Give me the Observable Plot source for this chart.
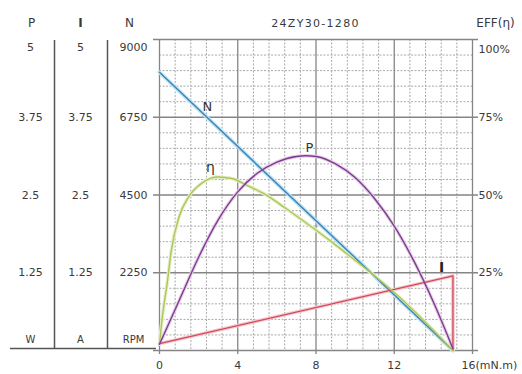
<!DOCTYPE html>
<html><head><meta charset="utf-8">
<script src="https://cdn.jsdelivr.net/npm/d3@7"></script>
<script src="https://cdn.jsdelivr.net/npm/@observablehq/plot@0.6"></script>
<style>body{margin:0;background:#fff}</style>
</head><body><div id="chart"></div><script>
// ---- data ----
const nTorque = [0, 15];
const nSpeed = [8050, 0];                       // RPM
const iTorque = [0, 15, 15];
const iCurrent = [0.11, 1.2, 0];                // A
const pTorque = [0, 1, 2, 3, 4, 5, 6, 7, 7.5, 8, 9, 10, 11, 12, 13, 14, 15];
const pPower = [0.1, 0.8, 1.5, 2.1, 2.55, 2.85, 3.03, 3.12, 3.13, 3.12, 3.0, 2.78, 2.44, 2.0, 1.44, 0.78, 0.03]; // W
const eTorque = [0, 0.15, 0.4, 0.6, 1.0, 1.5, 2.2, 3.0, 3.7, 4.5, 5.4, 6.5, 7.5, 8.7, 9.8, 10.8, 11.9, 13, 14, 15];
const eEff = [2, 11, 22, 32, 43, 49.5, 54, 55.8, 55.3, 53, 50.2, 45.5, 41, 35.4, 30, 25, 19.2, 12.8, 6.5, 0]; // %

const pTicks = [1.25, 2.5, 3.75, 5];
const iTicks = [1.25, 2.5, 3.75, 5];
const nTicks = [2250, 4500, 6750, 9000];
const effTicks = [25, 50, 75, 100];
const xTicks = [0, 4, 8, 12];
const xLastLabel = "16(mN.m)";
const title = "24ZY30-1280";

// scale factors onto the shared N axis (0..9000)
const kP = 9000 / 5, kI = 9000 / 5, kE = 9000 / 100;

const nData = nTorque.map((t, i) => ({t, y: nSpeed[i]}));
const iData = iTorque.map((t, i) => ({t, y: iCurrent[i] * kI}));
const pData = pTorque.map((t, i) => ({t, y: pPower[i] * kP}));
const eData = eTorque.map((t, i) => ({t, y: eEff[i] * kE}));

const xMajor = [0, 4, 8, 12, 16];
const xMinor = d3.range(0, 16.001, 0.8).filter(v => Math.abs(v / 4 - Math.round(v / 4)) > 1e-6);
const yMajor = [0, 2250, 4500, 6750, 9000];
const yMinor = d3.range(0, 9000.1, 450).filter(v => v % 2250 !== 0);

const txt = "#3a3a3a";
const lab = (data, opts) => Plot.text(data, {fill: txt, fontSize: 11, ...opts});

const chart = Plot.plot({
  width: 522, height: 374,
  marginLeft: 159, marginRight: 50, marginTop: 39, marginBottom: 24,
  x: {domain: [0, 16], axis: null},
  y: {domain: [0, 9000], axis: null},
  style: {fontFamily: "'DejaVu Sans', sans-serif", background: "#fff", color: txt},
  marks: [
    // grid
    Plot.ruleX(xMinor, {stroke: "#a9a9a9", strokeWidth: 1, strokeDasharray: "2,1.5"}),
    Plot.ruleY(yMinor, {stroke: "#a9a9a9", strokeWidth: 1, strokeDasharray: "2,1.5"}),
    Plot.ruleX(xMajor, {stroke: "#858585", strokeWidth: 1.3, insetBottom: -4}),
    Plot.ruleY(yMajor, {stroke: "#858585", strokeWidth: 1.3, insetLeft: -6, insetRight: -6}),
    // left column separators and baseline
    Plot.ruleX([0], {dx: -105, stroke: "#555", strokeWidth: 1.5, insetTop: 1, insetBottom: 2}),
    Plot.ruleX([0], {dx: -52, stroke: "#555", strokeWidth: 1.5, insetTop: 1, insetBottom: 2}),
    Plot.ruleY([0], {x1: 0, x2: 0, insetLeft: -149, insetRight: 3, dy: -2, stroke: "#555", strokeWidth: 1.5}),
    // curves: halos
    Plot.line(nData, {x: "t", y: "y", stroke: "#bfe3f3", strokeWidth: 4}),
    Plot.line(iData, {x: "t", y: "y", stroke: "#f6c6cc", strokeWidth: 3.5}),
    Plot.line(eData, {x: "t", y: "y", stroke: "#e6efc6", strokeWidth: 3.5, curve: "monotone-x"}),
    Plot.line(pData, {x: "t", y: "y", stroke: "#e7cdea", strokeWidth: 3.5, curve: "monotone-x"}),
    // curves
    Plot.line(nData, {x: "t", y: "y", stroke: "#3a86b8", strokeWidth: 1.4}),
    Plot.line(iData, {x: "t", y: "y", stroke: "#cf4a58", strokeWidth: 1.3}),
    Plot.line(eData, {x: "t", y: "y", stroke: "#adc65a", strokeWidth: 1.4, curve: "monotone-x"}),
    Plot.line(pData, {x: "t", y: "y", stroke: "#7c3d8e", strokeWidth: 1.4, curve: "monotone-x"}),
    // curve labels
    Plot.text(["N"], {x: [2.45], y: [7060], fill: "#333", fontSize: 13}),
    Plot.text(["P"], {x: [7.67], y: [5870], fill: "#333", fontSize: 13}),
    Plot.text(["η"], {x: [2.6], y: [5300], fill: "#333", fontSize: 14}),
    Plot.text(["I"], {x: [14.42], y: [2390], fill: "#222", fontSize: 14, fontWeight: "bold"}),
    // left axis labels
    lab(pTicks.filter(v => v < 5), {x: 0, y: d => d * kP, text: d => String(d), dx: -129}),
    lab(pTicks.filter(v => v >= 5), {x: 0, y: d => d * kP, text: d => String(d), dx: -129, dy: 8}),
    lab(iTicks.filter(v => v < 5), {x: 0, y: d => d * kI, text: d => String(d), dx: -79}),
    lab(iTicks.filter(v => v >= 5), {x: 0, y: d => d * kI, text: d => String(d), dx: -79, dy: 8}),
    lab(nTicks.filter(v => v < 9000), {x: 0, y: d => d, text: d => String(d), dx: -12, textAnchor: "end"}),
    lab(nTicks.filter(v => v >= 9000), {x: 0, y: d => d, text: d => String(d), dx: -12, dy: 8, textAnchor: "end"}),
    // right axis labels
    lab(effTicks.filter(v => v < 100), {x: 16, y: d => d * kE, text: d => d + "%", dx: 6, textAnchor: "start"}),
    lab(effTicks.filter(v => v >= 100), {x: 16, y: d => d * kE, text: d => d + "%", dx: 6, dy: 10, textAnchor: "start"}),
    // bottom axis labels
    lab(xTicks, {x: d => d, y: 0, text: d => String(d), dy: 15}),
    lab([xLastLabel], {x: 16, y: 0, dy: 15, dx: -11, textAnchor: "start"}),
    // headers
    lab(["P"], {frameAnchor: "top-left", dx: -128, dy: -16, textAnchor: "middle", lineAnchor: "middle", fontSize: 12}),
    lab(["I"], {frameAnchor: "top-left", dx: -79, dy: -16, textAnchor: "middle", lineAnchor: "middle", fontWeight: "bold", fontSize: 12}),
    lab(["N"], {frameAnchor: "top-left", dx: -30, dy: -16, textAnchor: "middle", lineAnchor: "middle", fontSize: 12}),
    lab([title], {frameAnchor: "top-left", dx: 156, dy: -16, textAnchor: "middle", lineAnchor: "middle", fontSize: 11}),
    lab(["EFF(η)"], {frameAnchor: "top-left", dx: 336, dy: -16, textAnchor: "middle", lineAnchor: "middle", fontSize: 12}),
    // units row
    lab(["W"], {frameAnchor: "bottom-left", dx: -129, dy: -11, textAnchor: "middle", lineAnchor: "middle", fontSize: 10}),
    lab(["A"], {frameAnchor: "bottom-left", dx: -79, dy: -11, textAnchor: "middle", lineAnchor: "middle", fontSize: 10}),
    lab(["RPM"], {frameAnchor: "bottom-left", dx: -26, dy: -11, textAnchor: "middle", lineAnchor: "middle", fontSize: 10})
  ]
});
document.getElementById("chart").append(chart);
// widen the title's letter spacing like the reference
d3.select(chart).selectAll("text").filter(function(){ return this.textContent === title; }).style("letter-spacing", "1.3px");
</script></body></html>
